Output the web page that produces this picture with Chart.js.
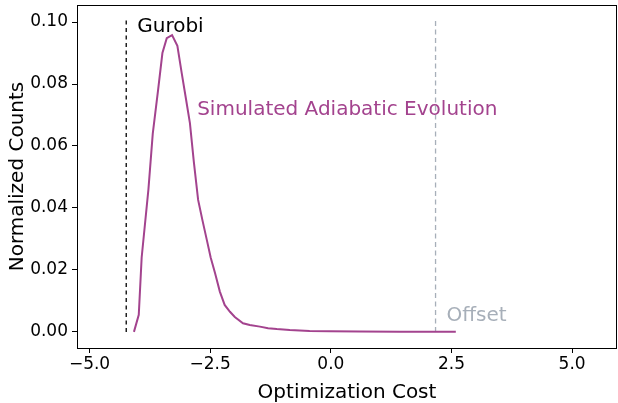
<!DOCTYPE html>
<html>
<head>
<meta charset="utf-8">
<script src="https://cdn.jsdelivr.net/npm/chart.js@4.4.0/dist/chart.umd.min.js"></script>
<style>
  html, body { margin:0; padding:0; background:#fff; }
  #wrap { width:618px; height:403px; }
</style>
</head>
<body>
<div id="wrap"><canvas id="c"></canvas></div>
<script>
// histogram of optimization cost (bin centre, normalized count)
const costs = [-4.08, -3.98, -3.92, -3.78, -3.69, -3.58, -3.49, -3.40, -3.29, -3.18, -3.09, -3.00, -2.92, -2.84,
  -2.75, -2.66, -2.57, -2.49, -2.40, -2.30, -2.20, -2.09, -1.99, -1.82, -1.68, -1.47, -1.30, -1.12, -0.85,
  -0.44, -0.02, 0.60, 1.43, 2.05, 2.59];
const counts = [0.0000, 0.0055, 0.0240, 0.0460, 0.0640, 0.0780, 0.0900, 0.0948, 0.0958, 0.0923, 0.0835, 0.0750,
  0.0674, 0.0550, 0.0426, 0.0360, 0.0297, 0.0240, 0.0190, 0.0130, 0.0087, 0.0065, 0.0048, 0.0028, 0.0022,
  0.0017, 0.0012, 0.0009, 0.0006, 0.0003, 0.0002, 0.0001, 0.00005, 0.00003, 0.00002];
const gurobiCost = -4.24;
const offsetCost = 2.17;
const refLineTop = 0.1005;
const xTicks = [-5.0, -2.5, 0.0, 2.5, 5.0];
const yTicks = [0.00, 0.02, 0.04, 0.06, 0.08, 0.10];

const purple = '#a3438e';
const grey = '#a7afb9';
const font = '"DejaVu Sans"';

const boxPlugin = {
  id: 'box',
  afterDraw(chart) {
    const { ctx, chartArea: a, scales } = chart;
    ctx.save();
    ctx.strokeStyle = '#000';
    ctx.lineWidth = 1;
    ctx.strokeRect(a.left + 0.5, a.top + 0.5, a.right - a.left - 1, a.bottom - a.top);
    ctx.font = '20px ' + font;
    ctx.textBaseline = 'middle';
    ctx.fillStyle = '#000';
    ctx.fillText('Gurobi', scales.x.getPixelForValue(gurobiCost) + 11, scales.y.getPixelForValue(0.0985));
    ctx.fillStyle = purple;
    ctx.fillText('Simulated Adiabatic Evolution', scales.x.getPixelForValue(-2.77), scales.y.getPixelForValue(0.0718));
    ctx.fillStyle = grey;
    ctx.fillText('Offset', scales.x.getPixelForValue(offsetCost) + 11, scales.y.getPixelForValue(0.0053));
    ctx.restore();
  }
};

new Chart(document.getElementById('c'), {
  type: 'scatter',
  data: {
    datasets: [
      { data: costs.map((x, i) => ({ x, y: counts[i] })), showLine: true, borderColor: purple,
        borderWidth: 2, pointRadius: 0, tension: 0 },
      { data: [{ x: gurobiCost, y: 0 }, { x: gurobiCost, y: refLineTop }], showLine: true, borderColor: '#000',
        borderWidth: 1.3, borderDash: [4, 3.5], pointRadius: 0 },
      { data: [{ x: offsetCost, y: 0 }, { x: offsetCost, y: refLineTop }], showLine: true, borderColor: grey,
        borderWidth: 1.3, borderDash: [5, 3.5], pointRadius: 0 }
    ]
  },
  options: {
    responsive: true, maintainAspectRatio: false, animation: false,
    layout: { padding: { top: 5, right: 1, left: 2, bottom: -2 } },
    plugins: { legend: { display: false }, tooltip: { enabled: false } },
    scales: {
      x: {
        type: 'linear', min: -5.26, max: 5.93,
        afterBuildTicks: s => { s.ticks = xTicks.map(v => ({ value: v })); },
        afterFit: s => { s.height = 57; s.paddingLeft = 0; s.paddingRight = 0; },
        ticks: { color: '#000', font: { family: font, size: 17 }, padding: 1, maxRotation: 0,
          callback: v => v.toFixed(1).replace('-', '\u2212') },
        grid: { drawOnChartArea: false, tickLength: 5, color: '#000', tickWidth: 1 },
        border: { display: false },
        title: { display: true, text: 'Optimization Cost', color: '#000', font: { family: font, size: 20 }, padding: { top: 4, bottom: 0 } }
      },
      y: {
        type: 'linear', min: -0.0052, max: 0.1055,
        afterBuildTicks: s => { s.ticks = yTicks.map(v => ({ value: v })); },
        afterFit: s => { s.width = 75; s.paddingTop = 0; s.paddingBottom = 0; },
        ticks: { color: '#000', font: { family: font, size: 17 }, padding: 4,
          callback: v => v.toFixed(2) },
        grid: { drawOnChartArea: false, tickLength: 5, color: '#000', tickWidth: 1 },
        border: { display: false },
        title: { display: true, text: 'Normalized Counts', color: '#000', font: { family: font, size: 20 }, padding: { bottom: 0 } }
      }
    }
  },
  plugins: [boxPlugin]
});
</script>
</body>
</html>
